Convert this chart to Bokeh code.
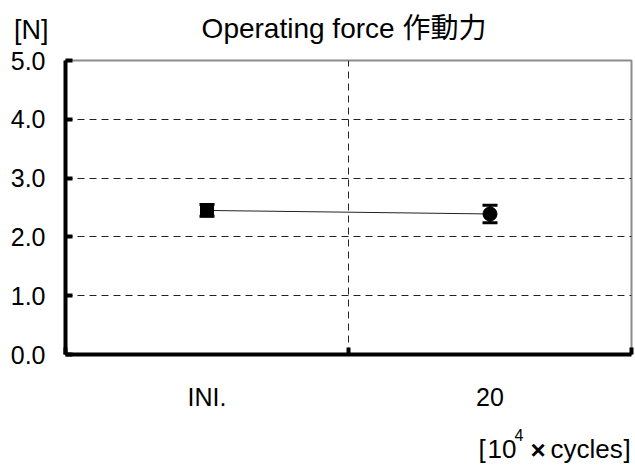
from bokeh.plotting import figure
from bokeh.layouts import column
from bokeh.models import (ColumnDataSource, Range1d, FixedTicker, Whisker, TeeHead,
                          Label, NumeralTickFormatter, LinearAxis)
from bokeh.embed import file_html
from bokeh.resources import INLINE

# ---- data ----
categories = ["INI.", "20"]
force_mean = [2.45, 2.39]
force_err = [0.10, 0.15]
y_ticks = [0, 1, 2, 3, 4, 5]
title_text = "Operating force 作動力"
y_unit = "[N]"
x_unit_parts = ["[", "10", "4", "×", "cycles", "]"]

FONT = "Liberation Sans, Noto Sans CJK JP"
W = 634
LEFT, RIGHT = 65, 3
FX0, FX1 = LEFT, W - RIGHT
HEAD_H, MAIN_H, FOOT_H = 48, 365, 52


def text_panel(h):
    f = figure(width=W, height=h, output_backend="svg", toolbar_location=None,
               x_range=Range1d(FX0, FX1), y_range=Range1d(h, 0),
               x_axis_type=None, y_axis_type=None,
               min_border_left=LEFT, min_border_right=RIGHT,
               min_border_top=0, min_border_bottom=0)
    f.outline_line_color = None
    f.background_fill_color = "white"
    f.border_fill_color = "white"
    f.grid.visible = False
    return f


def lab(f, x, y, text, size, align="left", style="normal"):
    f.add_layout(Label(x=x, y=y, text=text, text_font=FONT, text_font_size=size,
                       text_font_style=style, text_align=align, text_baseline="middle",
                       text_color="black"))


# ---- header ----
head = text_panel(HEAD_H)
lab(head, 343.5, 28, title_text, "28px", "center")
unit_axis = LinearAxis(ticker=FixedTicker(ticks=[29]), major_label_overrides={29: y_unit},
                       axis_line_color=None, major_tick_line_color=None,
                       minor_tick_line_color=None, major_label_standoff=11,
                       major_label_text_font=FONT, major_label_text_font_size="27px",
                       major_label_text_color="black")
head.add_layout(unit_axis, "left")

# ---- main chart ----
xs = [i + 0.5 for i in range(len(categories))]
src = ColumnDataSource(dict(
    x=xs, y=force_mean,
    lo=[m - e for m, e in zip(force_mean, force_err)],
    hi=[m + e for m, e in zip(force_mean, force_err)],
))

p = figure(width=W, height=MAIN_H, output_backend="svg", toolbar_location=None,
           x_range=Range1d(0, len(categories)), y_range=Range1d(y_ticks[0], y_ticks[-1]),
           min_border_left=LEFT, min_border_right=RIGHT, min_border_top=12, min_border_bottom=58)
p.background_fill_color = "white"
p.border_fill_color = "white"
p.outline_line_color = "#8c8c8c"
p.outline_line_width = 2

p.ygrid.ticker = FixedTicker(ticks=y_ticks[1:-1])
p.xgrid.ticker = FixedTicker(ticks=list(range(1, len(categories))))
for g in (p.xgrid, p.ygrid):
    g.grid_line_color = "#222222"
    g.grid_line_width = 1
    g.grid_line_dash = "7 5"

ya = p.yaxis[0]
ya.ticker = FixedTicker(ticks=y_ticks)
ya.formatter = NumeralTickFormatter(format="0.0")
ya.axis_line_width = 4
ya.axis_line_color = "black"
ya.major_tick_in = 7
ya.major_tick_out = 0
ya.major_tick_line_width = 4
ya.minor_tick_line_color = None
ya.major_label_standoff = 20
ya.major_label_text_font = FONT
ya.major_label_text_font_size = "25px"
ya.major_label_text_color = "black"

xa = p.xaxis[0]
xa.ticker = FixedTicker(ticks=xs, minor_ticks=list(range(0, len(categories) + 1)))
xa.major_label_overrides = {x: c for x, c in zip(xs, categories)}
xa.axis_line_width = 4
xa.axis_line_color = "black"
xa.major_tick_in = 0
xa.major_tick_out = 0
xa.minor_tick_in = 7
xa.minor_tick_out = 0
xa.minor_tick_line_width = 4
xa.minor_tick_line_color = "black"
xa.major_label_standoff = 28
xa.major_label_text_font = FONT
xa.major_label_text_font_size = "25px"
xa.major_label_text_color = "black"

p.line("x", "y", source=src, line_color="#222222", line_width=1)
w = Whisker(base="x", lower="lo", upper="hi", source=src, dimension="height",
            line_color="black", line_width=3,
            upper_head=TeeHead(size=15, line_width=3, line_color="black"),
            lower_head=TeeHead(size=15, line_width=3, line_color="black"))
p.add_layout(w)
p.scatter(x=xs[:1], y=force_mean[:1], marker="square", size=13, color="black")
p.scatter(x=xs[1:], y=force_mean[1:], marker="circle", size=14, color="black")

# ---- footer ----
foot = text_panel(FOOT_H)
lab(foot, 478, 35, x_unit_parts[0], "26px")
lab(foot, 487, 35, x_unit_parts[1], "26px")
lab(foot, 514, 21, x_unit_parts[2], "16px")
lab(foot, 530, 36, x_unit_parts[3], "26px", style="bold")
lab(foot, 550, 35, x_unit_parts[4], "26px")
lab(foot, 623, 35, x_unit_parts[5], "26px")

layout = column(head, p, foot, spacing=0)
open("out.html", "w").write(file_html(layout, INLINE))
